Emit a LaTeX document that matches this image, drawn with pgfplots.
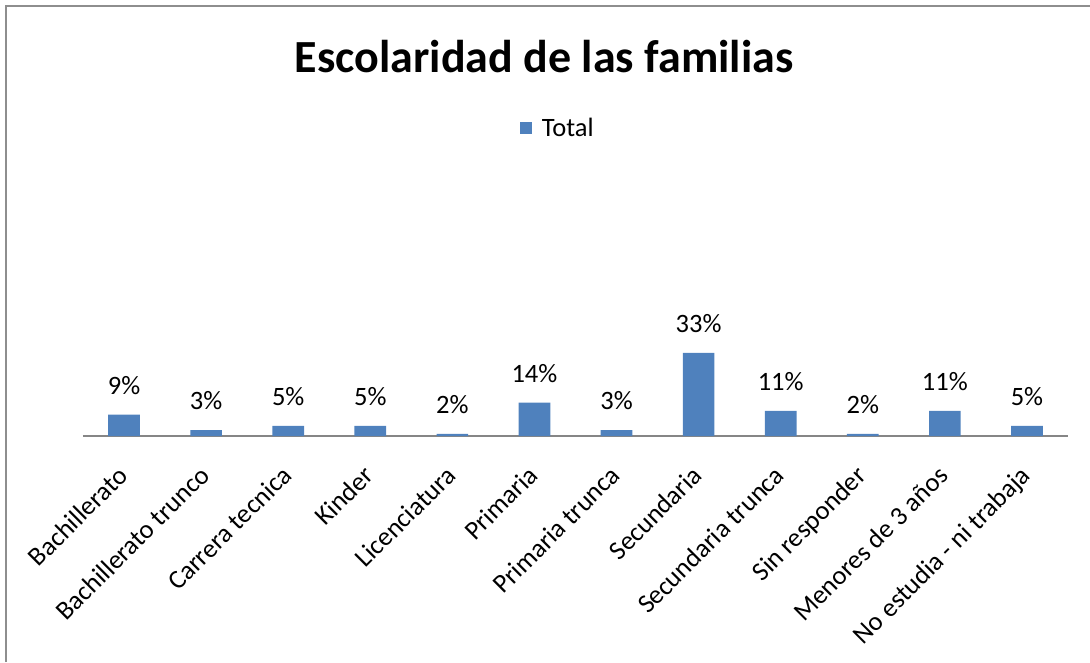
\documentclass[border=0pt]{standalone}
\usepackage{pgfplots}
\pgfplotsset{compat=1.18}
\usepackage{fontspec}
\setmainfont{Carlito}
\definecolor{barblue}{HTML}{4F81BD}
\definecolor{framegray}{HTML}{8E8E8E}
\definecolor{axisgray}{HTML}{868686}

\begin{document}
\begin{tikzpicture}[x=1pt,y=1pt]
\useasboundingbox (0,0) rectangle (1090,662);
% chart frame (only left and top edges are visible)
\draw[framegray, line width=2pt] (6,0) -- (6,656) -- (1090,656);
\node at (544,605) {\fontsize{46}{54}\selectfont\bfseries Escolaridad de las familias};
\begin{axis}[
    at={(83pt,226pt)}, anchor=south west,
    scale only axis,
    width=985pt, height=257.4pt,
    xmin=-0.5, xmax=11.5,
    ymin=1, ymax=100,
    axis y line=none,
    axis x line*=bottom,
    x axis line style={axisgray, line width=1.5pt, -},
    ybar, bar width=31.7pt,
    xtick={0,...,11},
    xticklabels={Bachillerato, Bachillerato trunco, Carrera tecnica, Kinder,
        Licenciatura, Primaria, Primaria trunca, Secundaria, Secundaria trunca,
        Sin responder, Menores de 3 años, No estudia - ni trabaja},
    major tick length=0pt,
    x tick label style={xshift=-8pt, yshift=-28pt, rotate=45,
        anchor=north east, inner sep=0pt,
        font=\fontsize{26.5}{30}\selectfont},
    nodes near coords={\pgfmathprintnumber[fixed,precision=0,assume math mode=true]{\pgfplotspointmeta}\%},
    every node near coord/.append style={anchor=south, inner sep=0pt,
        yshift=20pt, black, font=\fontsize{26.5}{30}\selectfont},
    legend style={at={(0.482,1.197)}, anchor=center, draw=none,
        font=\fontsize{26.5}{30}\selectfont},
    legend image code/.code={\fill[barblue] (0pt,-6pt) rectangle (12pt,6pt);
        \path (20pt,0pt);},
    clip=false,
]
\addplot[fill=barblue, draw=none] coordinates {
    (0,9.2) (1,3.3) (2,4.9) (3,4.9) (4,1.8) (5,13.8)
    (6,3.3) (7,33.0) (8,10.7) (9,1.8) (10,10.7) (11,4.9)
};
\legend{Total}
\end{axis}
\end{tikzpicture}
\end{document}
